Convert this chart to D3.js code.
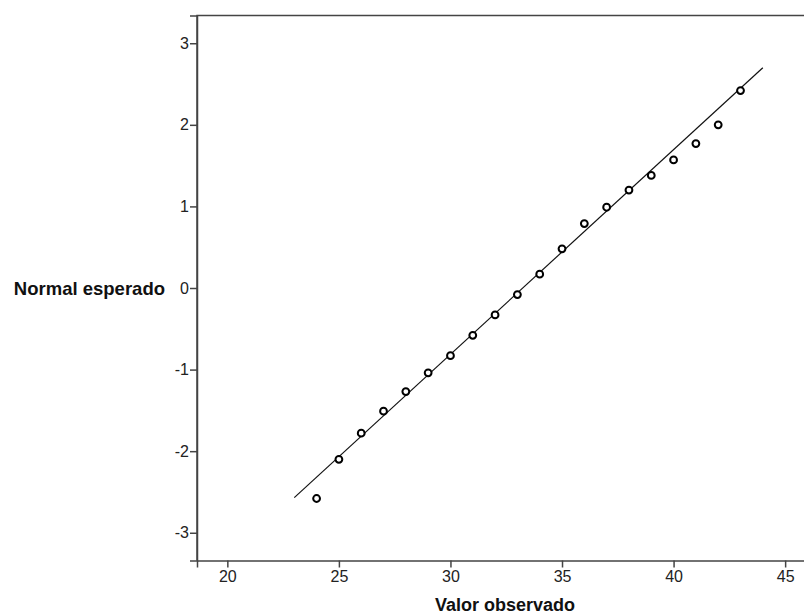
<!DOCTYPE html>
<html>
<head>
<meta charset="utf-8">
<script src="https://cdn.jsdelivr.net/npm/d3@7"></script>
<style>
  body { margin: 0; background: #fff; }
  svg { display: block; }
</style>
</head>
<body>
<div id="plot"></div>
<script>
// Q-Q normal plot: observed value vs expected normal

const observed = [24, 25, 26, 27, 28, 29, 30, 31, 32, 33, 34, 35, 36, 37, 38, 39, 40, 41, 42, 43];
const expected = [-2.58, -2.10, -1.78, -1.51, -1.27, -1.04, -0.83, -0.58, -0.33, -0.08,
                  0.17, 0.48, 0.79, 0.99, 1.20, 1.38, 1.57, 1.77, 2.00, 2.42];
const xTicks = [20, 25, 30, 35, 40, 45];
const yTicks = [-3, -2, -1, 0, 1, 2, 3];
// reference line endpoints (observed, expected)
const refLineX = [23, 44];
const refLineY = [-2.57, 2.70];

const W = 804, H = 614;
const margin = {top: 15.5, right: -3, bottom: 53.5, left: 197};
const width = W - margin.left - margin.right;
const height = H - margin.top - margin.bottom;
const font = "Arial, 'Liberation Sans', sans-serif";

const svg = d3.select("#plot")
  .append("svg")
  .attr("width", W)
  .attr("height", H);

const g = svg.append("g")
  .attr("transform", `translate(${margin.left},${margin.top})`);

const x = d3.scaleLinear().domain([18.64, 45.98]).range([0, width]);
const y = d3.scaleLinear().domain([-3.34, 3.34]).range([height, 0]);

// frame (left, top, bottom)
g.append("path")
  .attr("d", `M0,${height}V0H${width}`)
  .attr("fill", "none")
  .attr("stroke", "#444")
  .attr("stroke-width", 1.5);

const xAxis = g.append("g")
  .attr("transform", `translate(0,${height})`)
  .call(d3.axisBottom(x).tickValues(xTicks).tickSize(7).tickPadding(3).tickFormat(d3.format("d")));

const yAxis = g.append("g")
  .call(d3.axisLeft(y).tickValues(yTicks).tickSize(7).tickPadding(1).tickFormat(d => d < 0 ? "-" + Math.abs(d) : d));

[xAxis, yAxis].forEach(a => {
  a.attr("font-size", null).attr("font-family", null);
  a.select(".domain").attr("stroke", "#444").attr("stroke-width", 1.5);
  a.selectAll(".tick line").attr("stroke", "#444").attr("stroke-width", 1.5);
  a.selectAll(".tick text")
    .attr("fill", "#222")
    .style("font-family", font)
    .style("font-size", "16px");
});

// reference line
g.append("line")
  .attr("x1", x(refLineX[0])).attr("y1", y(refLineY[0]))
  .attr("x2", x(refLineX[1])).attr("y2", y(refLineY[1]))
  .attr("stroke", "#111")
  .attr("stroke-width", 1.2);

// points
g.selectAll(".pt")
  .data(observed.map((d, i) => [d, expected[i]]))
  .enter()
  .append("circle")
  .attr("class", "pt")
  .attr("cx", d => x(d[0]))
  .attr("cy", d => y(d[1]))
  .attr("r", 3.4)
  .attr("fill", "#fff")
  .attr("stroke", "#000")
  .attr("stroke-width", 2);

// axis titles
svg.append("text")
  .attr("x", 505)
  .attr("y", 611)
  .attr("text-anchor", "middle")
  .style("font-family", font)
  .style("font-size", "18px")
  .style("font-weight", "bold")
  .attr("fill", "#111")
  .text("Valor observado");

svg.append("text")
  .attr("x", 165)
  .attr("y", y(0) + margin.top + 7)
  .attr("text-anchor", "end")
  .style("font-family", font)
  .style("font-size", "18.5px")
  .style("font-weight", "bold")
  .attr("fill", "#111")
  .text("Normal esperado");
</script>
</body>
</html>
